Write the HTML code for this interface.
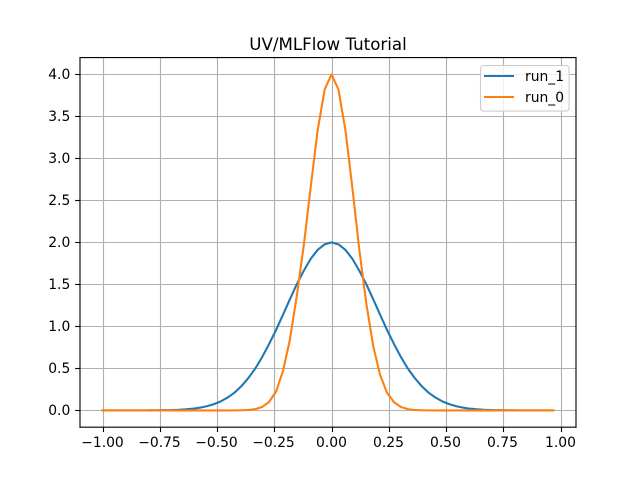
<!DOCTYPE html>
<html lang="en">
<head>
<meta charset="utf-8">
<title>UV/MLFlow Tutorial</title>
<style>
html,body{margin:0;padding:0;background:#fff;width:640px;height:480px;overflow:hidden}
svg{display:block}
text{font-family:"DejaVu Sans","Liberation Sans",sans-serif;fill:#000}
</style>
</head>
<body>
<svg id="chart" xmlns="http://www.w3.org/2000/svg" width="640" height="480" viewBox="0 0 640 480">
<rect x="0" y="0" width="640" height="480" fill="#fff"/>
<rect x="80" y="57.6" width="496" height="369.6" fill="#fff"/>
<g id="grid"></g>
<g id="series"></g>
<g id="spines">
<line x1="80" y1="57.6" x2="80" y2="427.2" stroke="#000" stroke-width="1.11" stroke-linecap="square"/>
<line x1="576" y1="57.6" x2="576" y2="427.2" stroke="#000" stroke-width="1.11" stroke-linecap="square"/>
<line x1="80" y1="57.6" x2="576" y2="57.6" stroke="#000" stroke-width="1.11" stroke-linecap="square"/>
<line x1="80" y1="427.2" x2="576" y2="427.2" stroke="#000" stroke-width="1.11" stroke-linecap="square"/>
</g>
<g id="ticks"></g>
<text x="328" y="50" text-anchor="middle" font-size="16.67">UV/MLFlow Tutorial</text>
<g>
<rect x="480.5" y="65.5" width="88.6" height="45.6" rx="3" ry="3" fill="#fff" fill-opacity="0.8" stroke="#ccc" stroke-width="1.11"/>
<line x1="485" y1="76" x2="513" y2="76" stroke="#1f77b4" stroke-width="2.08" stroke-linecap="square"/>
<text x="525" y="81" font-size="13.89">run_1</text>
<line x1="485" y1="97" x2="513" y2="97" stroke="#ff7f0e" stroke-width="2.08" stroke-linecap="square"/>
<text x="525" y="102" font-size="13.89">run_0</text>
</g>
</svg>
<script>
var xValues = [-1.000,-0.970,-0.939,-0.909,-0.879,-0.848,-0.818,-0.788,-0.758,-0.727,-0.697,-0.667,-0.636,-0.606,-0.576,-0.545,-0.515,-0.485,-0.455,-0.424,-0.394,-0.364,-0.333,-0.303,-0.273,-0.242,-0.212,-0.182,-0.152,-0.121,-0.091,-0.061,-0.030,0.000,0.030,0.061,0.091,0.121,0.152,0.182,0.212,0.242,0.273,0.303,0.333,0.364,0.394,0.424,0.455,0.485,0.515,0.545,0.576,0.606,0.636,0.667,0.697,0.727,0.758,0.788,0.818,0.848,0.879,0.909,0.939,0.969];
var run1Values = [0,0,0,0,0,0,0.0005,0.001,0.002,0.003,0.005,0.008,0.013,0.020,0.032,0.049,0.073,0.106,0.151,0.211,0.287,0.383,0.499,0.635,0.789,0.959,1.140,1.323,1.501,1.664,1.804,1.910,1.977,2.000,1.977,1.910,1.804,1.664,1.501,1.323,1.140,0.959,0.789,0.635,0.499,0.383,0.287,0.211,0.151,0.106,0.073,0.049,0.032,0.020,0.013,0.008,0.005,0.003,0.002,0.001,0.0005,0,0,0,0,0];
var run0Values = [0,0,0,0,0,0,0,0,0,0,0,0,0,0,0,0,0,0,0,0.0005,0.002,0.005,0.015,0.041,0.100,0.225,0.470,0.840,1.360,1.970,2.660,3.329,3.821,4.000,3.821,3.329,2.646,1.919,1.269,0.766,0.422,0.212,0.097,0.041,0.015,0.005,0.002,0.0005,0,0,0,0,0,0,0,0,0,0,0,0,0,0,0,0,0,0];
var xTickValues = [-1,-0.75,-0.5,-0.25,0,0.25,0.5,0.75,1];
var xTickLabels = ["\u22121.00","\u22120.75","\u22120.50","\u22120.25","0.00","0.25","0.50","0.75","1.00"];
var yTickValues = [0,0.5,1,1.5,2,2.5,3,3.5,4];
var yTickLabels = ["0.0","0.5","1.0","1.5","2.0","2.5","3.0","3.5","4.0"];

var NS = "http://www.w3.org/2000/svg";
var left = 80, right = 576, top_ = 57.6, bottom = 427.2;
var allY = run1Values.concat(run0Values);
var xLo = Math.min.apply(null, xValues), xHi = Math.max.apply(null, xValues);
var yLo = Math.min.apply(null, allY), yHi = Math.max.apply(null, allY);
var xPad = (xHi - xLo) * 0.05, yPad = (yHi - yLo) * 0.05;
function xScale(v) { return left + (v - (xLo - xPad)) / (xHi - xLo + 2 * xPad) * (right - left); }
function yScale(v) { return bottom - (v - (yLo - yPad)) / (yHi - yLo + 2 * yPad) * (bottom - top_); }
function snap(p) { return Math.floor(p + 0.5) + 0.5; }
function make(tag, attrs, parent) {
  var el = document.createElementNS(NS, tag);
  for (var k in attrs) { el.setAttribute(k, attrs[k]); }
  parent.appendChild(el);
  return el;
}
var gridG = document.getElementById("grid");
var ticksG = document.getElementById("ticks");
var seriesG = document.getElementById("series");

xTickValues.forEach(function (v, i) {
  var px = snap(xScale(v));
  var g = make("line", {x1: px, y1: top_, x2: px, y2: bottom, stroke: "#b0b0b0", "stroke-width": 1.11}, gridG);
  
  
  var t = make("line", {x1: px, y1: bottom, x2: px, y2: bottom + 4.86, stroke: "#000", "stroke-width": 1.11}, ticksG);
  
  
  var l = make("text", {x: px - 1, y: 447, "text-anchor": "middle", "font-size": 13.89}, ticksG);
  
  
  l.textContent = xTickLabels[i];
});
yTickValues.forEach(function (v, i) {
  var py = snap(yScale(v) - 0.5);
  var g = make("line", {x1: left, y1: py, x2: right, y2: py, stroke: "#b0b0b0", "stroke-width": 1.11}, gridG);
  
  
  var t = make("line", {x1: left - 4.86, y1: py, x2: left, y2: py, stroke: "#000", "stroke-width": 1.11}, ticksG);
  
  
  var l = make("text", {x: 70.3, y: py + 4.5, "text-anchor": "end", "font-size": 13.89}, ticksG);
  
  
  l.textContent = yTickLabels[i];
});
function pointsFor(values) {
  return values.map(function (v, i) { return xScale(xValues[i]).toFixed(2) + "," + yScale(v).toFixed(2); }).join(" ");
}
var line1 = make("polyline", {points: pointsFor(run1Values), fill: "none", stroke: "#1f77b4", "stroke-width": 2.08, "stroke-linecap": "square", "stroke-linejoin": "round"}, seriesG);


var line0 = make("polyline", {points: pointsFor(run0Values), fill: "none", stroke: "#ff7f0e", "stroke-width": 2.08, "stroke-linecap": "square", "stroke-linejoin": "round"}, seriesG);


</script>
</body>
</html>
